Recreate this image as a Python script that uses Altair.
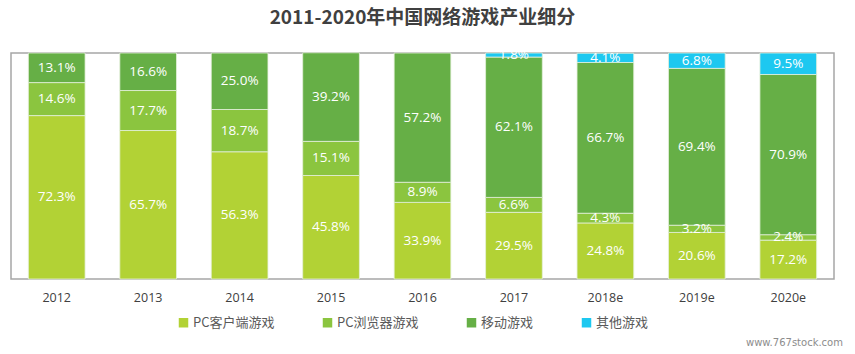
import altair as alt
import pandas as pd

years = ["2012", "2013", "2014", "2015", "2016", "2017", "2018e", "2019e", "2020e"]
series = ["PC客户端游戏", "PC浏览器游戏", "移动游戏", "其他游戏"]
colors = ["#B2D235", "#8BC53F", "#66AF46", "#1DC8F0"]
pc_client = [72.3, 65.7, 56.3, 45.8, 33.9, 29.5, 24.8, 20.6, 17.2]
pc_browser = [14.6, 17.7, 18.7, 15.1, 8.9, 6.6, 4.3, 3.2, 2.4]
mobile = [13.1, 16.6, 25.0, 39.2, 57.2, 62.1, 66.7, 69.4, 70.9]
other = [0, 0, 0, 0, 0, 1.8, 4.1, 6.8, 9.5]

rows = []
for i, y in enumerate(years):
    for k, (name, vals) in enumerate(zip(series, [pc_client, pc_browser, mobile, other])):
        v = vals[i]
        if v > 0:
            rows.append({"year": y, "series": name, "order": k, "value": v,
                         "label": f"{v:.1f}%"})
df = pd.DataFrame(rows)

FONT = "Noto Sans CJK SC"
NUMFONT = "Open Sans"

bars = alt.Chart(df).mark_bar(stroke="#e4f0da", strokeWidth=0.8).encode(
    x=alt.X("year:N", sort=years, title=None,
            scale=alt.Scale(paddingInner=0.38, paddingOuter=0.19),
            axis=alt.Axis(labelAngle=0, ticks=False, domain=False, labelPadding=12,
                          labelFontSize=12.5, labelColor="#404040", labelFont=NUMFONT)),
    y=alt.Y("value:Q", stack="zero", title=None,
            scale=alt.Scale(domain=[0, 100], nice=False),
            axis=None),
    order=alt.Order("order:Q"),
    color=alt.Color("series:N", sort=series,
                    scale=alt.Scale(domain=series, range=colors),
                    legend=alt.Legend(title=None, orient="none", direction="horizontal",
                                      legendX=166, legendY=263,
                                      symbolType="square", symbolSize=90,
                                      symbolStrokeWidth=0,
                                      labelFontSize=13, labelColor="#595959",
                                      labelFont=FONT, columnPadding=46,
                                      labelOffset=3)),
)

label_pos = alt.Chart(df).transform_stack(
    stack="value", groupby=["year"], as_=["v0", "v1"],
    sort=[alt.SortField("order", order="ascending")]
).transform_calculate(mid="(datum.v0 + datum.v1) / 2").mark_text(
    color="white", fontSize=13.5, font=NUMFONT
).encode(
    x=alt.X("year:N", sort=years),
    y=alt.Y("mid:Q", scale=alt.Scale(domain=[0, 100], nice=False)),
    text="label:N",
)

watermark = alt.Chart(pd.DataFrame({"t": ["www.767stock.com"]})).mark_text(
    align="left", baseline="middle", fontSize=10, color="#8c8c8c", font="DejaVu Sans"
).encode(x=alt.value(735), y=alt.value(290), text="t:N")

chart = alt.layer(bars, label_pos, watermark).properties(
    width=823, height=226,
    title=alt.Title("2011-2020年中国网络游戏产业细分", fontSize=19, font=FONT,
                    fontWeight="bold", color="#404040", anchor="middle", offset=20),
    autosize=alt.AutoSizeParams(type="none"),
    padding={"left": 11, "top": 53, "right": 21, "bottom": 75},
).configure_view(stroke="#a6a6a6", strokeWidth=1.5)

chart.save("out.html", embed_options={"renderer": "svg", "actions": False})
